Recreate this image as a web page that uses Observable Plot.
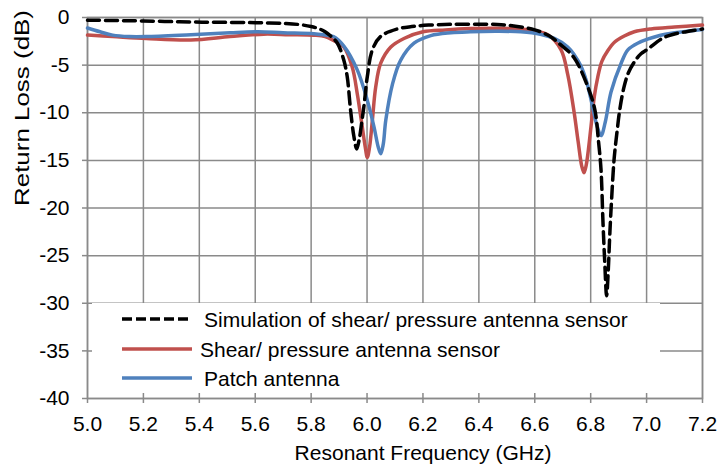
<!DOCTYPE html>
<html>
<head>
<meta charset="utf-8">
<script src="https://cdn.jsdelivr.net/npm/d3@7"></script>
<script src="https://cdn.jsdelivr.net/npm/@observablehq/plot@0.6"></script>
<style>
  body { margin: 0; background: #fff; }
  #chart { position: relative; width: 719px; height: 465px; font-family: "Liberation Sans", Arial, sans-serif; }
  #legend { position: absolute; left: 92px; top: 303px; width: 568px; height: 90px; background: #fff; }
</style>
</head>
<body>
<div id="chart"></div>
<script>
// Axis ticks
const xTicks = [5.0, 5.2, 5.4, 5.6, 5.8, 6.0, 6.2, 6.4, 6.6, 6.8, 7.0, 7.2];
const yTicks = [0, -5, -10, -15, -20, -25, -30, -35, -40];

// Series names
const seriesNames = [
  "Simulation of shear/ pressure antenna sensor",
  "Shear/ pressure antenna sensor",
  "Patch antenna"
];

// Simulation of shear/ pressure antenna sensor (GHz, dB)
const simFreq = [5.00, 5.10, 5.20, 5.33, 5.45, 5.57, 5.65, 5.71, 5.76, 5.80, 5.83, 5.85, 5.87, 5.894, 5.917, 5.929, 5.941, 5.953, 5.963, 5.972, 5.981, 5.989, 6.001, 6.019, 6.048, 6.109, 6.16, 6.22, 6.30, 6.40, 6.48, 6.55, 6.60, 6.65, 6.69, 6.74, 6.79, 6.815, 6.828, 6.837, 6.844, 6.850, 6.857, 6.863, 6.868, 6.875, 6.884, 6.895, 6.905, 6.92, 6.935, 6.96, 6.98, 7.005, 7.05, 7.08, 7.12, 7.16, 7.20];
const simLoss = [-0.28, -0.32, -0.36, -0.45, -0.50, -0.53, -0.58, -0.63, -0.75, -0.95, -1.2, -1.5, -1.95, -2.7, -4.5, -6.2, -9.7, -12.5, -13.8, -12.8, -11.0, -9.3, -6.2, -3.4, -2.0, -1.2, -0.95, -0.8, -0.72, -0.70, -0.75, -1.0, -1.3, -1.9, -2.8, -4.2, -7.3, -9.7, -13.0, -16.0, -21.5, -25.5, -29.2, -26.5, -23.0, -19.0, -14.8, -11.8, -9.5, -7.2, -5.8, -4.5, -3.8, -3.3, -2.3, -1.9, -1.6, -1.4, -1.2];

// Shear/ pressure antenna sensor, measured (GHz, dB)
const shearFreq = [5.00, 5.09, 5.21, 5.37, 5.51, 5.63, 5.72, 5.81, 5.85, 5.88, 5.917, 5.947, 5.965, 5.983, 5.993, 6.001, 6.009, 6.019, 6.031, 6.049, 6.085, 6.132, 6.20, 6.28, 6.37, 6.46, 6.55, 6.60, 6.646, 6.694, 6.718, 6.741, 6.755, 6.768, 6.776, 6.784, 6.801, 6.813, 6.825, 6.84, 6.861, 6.885, 6.92, 6.956, 7.016, 7.10, 7.20];
const shearLoss = [-1.85, -2.0, -2.2, -2.35, -2.0, -1.75, -1.8, -1.86, -2.0, -2.4, -3.1, -5.2, -8.0, -11.5, -13.5, -14.7, -13.6, -10.8, -7.3, -4.8, -3.1, -2.2, -1.5, -1.3, -1.16, -1.12, -1.2, -1.4, -1.8, -3.4, -6.0, -10.0, -13.0, -15.6, -16.3, -15.5, -11.5, -8.3, -6.3, -4.6, -3.5, -2.6, -1.95, -1.5, -1.2, -1.0, -0.8];

// Patch antenna, measured (GHz, dB)
const patchFreq = [5.00, 5.045, 5.09, 5.15, 5.21, 5.37, 5.51, 5.61, 5.70, 5.81, 5.85, 5.88, 5.917, 5.965, 6.001, 6.025, 6.040, 6.049, 6.058, 6.067, 6.091, 6.120, 6.168, 6.228, 6.30, 6.37, 6.46, 6.55, 6.62, 6.67, 6.718, 6.741, 6.765, 6.785, 6.801, 6.822, 6.837, 6.852, 6.873, 6.909, 6.933, 6.968, 7.05, 7.10, 7.20];
const patchLoss = [-1.1, -1.5, -1.85, -2.0, -2.0, -1.8, -1.6, -1.5, -1.6, -1.7, -1.85, -2.0, -3.0, -5.5, -8.7, -11.5, -13.6, -14.3, -13.3, -10.8, -7.0, -4.5, -2.7, -1.9, -1.6, -1.5, -1.45, -1.5, -1.75, -2.2, -3.1, -3.9, -5.1, -6.7, -8.6, -11.3, -12.4, -11.0, -7.8, -4.8, -3.4, -2.7, -1.86, -1.6, -1.25];

const xTitle = "Resonant Frequency (GHz)";
const yTitle = "Return Loss (dB)";

const gridColor = "#8a8a8a";
const simColor = "#000000";
const shearColor = "#C0504D";
const patchColor = "#4F81BD";
const lineWidth = 3.5;
const dash = "12,6";

const plot = Plot.plot({
  width: 719,
  height: 465,
  marginLeft: 87,
  marginRight: 17,
  marginTop: 17,
  marginBottom: 67,
  style: {
    fontFamily: '"Liberation Sans", Arial, sans-serif',
    fontSize: "21px",
    color: "#000",
    background: "#fff",
    overflow: "visible"
  },
  x: { domain: [5.0, 7.2] },
  y: { domain: [-40, 0] },
  marks: [
    Plot.gridX(xTicks, { stroke: gridColor, strokeOpacity: 1, strokeWidth: 1.5 }),
    Plot.gridY(yTicks, { stroke: gridColor, strokeOpacity: 1, strokeWidth: 1.5 }),
    Plot.frame({ stroke: gridColor, strokeWidth: 1.5 }),
    Plot.axisX(xTicks, {
      tickSize: 5, tickPadding: 13, stroke: gridColor, strokeWidth: 1.5,
      fill: "#000", tickFormat: d => d.toFixed(1), label: null
    }),
    Plot.axisY(yTicks, {
      tickSize: 5, tickPadding: 13, stroke: gridColor, strokeWidth: 1.5,
      fill: "#000", tickFormat: d => String(d), label: null
    }),
    Plot.line(shearLoss, {
      x: shearFreq, y: shearLoss, stroke: shearColor, strokeWidth: lineWidth,
      curve: "catmull-rom", strokeLinejoin: "round", strokeLinecap: "round"
    }),
    Plot.line(patchLoss, {
      x: patchFreq, y: patchLoss, stroke: patchColor, strokeWidth: lineWidth,
      curve: "catmull-rom", strokeLinejoin: "round", strokeLinecap: "round"
    }),
    Plot.line(simLoss, {
      x: simFreq, y: simLoss, stroke: simColor, strokeWidth: lineWidth,
      strokeDasharray: dash, curve: "catmull-rom", strokeLinejoin: "round"
    }),
    Plot.text([xTitle], {
      text: d => d, frameAnchor: "bottom", dy: 55, dx: 28,
      lineAnchor: "middle", fill: "#000"
    }),
    Plot.text([yTitle], {
      text: d => d, frameAnchor: "left", dx: -65, dy: -2, rotate: -90,
      lineAnchor: "middle", fill: "#000"
    })
  ]
});

// The vertical axis title is drawn wide along its run
d3.select(plot).selectAll("text")
  .filter(function () { return this.textContent === yTitle; })
  .attr("textLength", 196)
  .attr("lengthAdjust", "spacingAndGlyphs");

const chart = document.getElementById("chart");
chart.appendChild(plot);

// Legend box sitting inside the lower part of the plot frame
const legendItems = [
  { name: seriesNames[0], color: simColor, dash: "10,4" },
  { name: seriesNames[1], color: shearColor, dash: null },
  { name: seriesNames[2], color: patchColor, dash: null }
];
const legend = d3.select(chart).append("div").attr("id", "legend");
const lsvg = legend.append("svg").attr("width", 568).attr("height", 90)
  .style("font-family", '"Liberation Sans", Arial, sans-serif')
  .style("font-size", "21px");
const rowY = [16, 46, 75];
const rowBase = [24, 54, 83];
const textX = [112, 108, 112];
legendItems.forEach((item, i) => {
  lsvg.append("line")
    .attr("x1", 30).attr("x2", 100)
    .attr("y1", rowY[i]).attr("y2", rowY[i])
    .attr("stroke", item.color).attr("stroke-width", lineWidth)
    .attr("stroke-dasharray", item.dash);
  lsvg.append("text")
    .attr("x", textX[i]).attr("y", rowBase[i])
    .attr("fill", "#000")
    .text(item.name);
});
</script>
</body>
</html>
